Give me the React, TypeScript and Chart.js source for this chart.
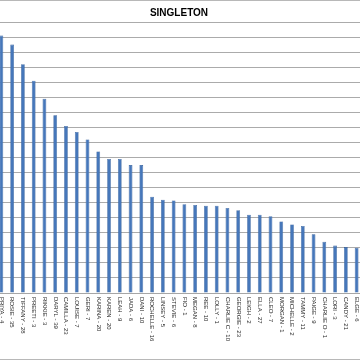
import { useEffect, useRef } from "react";
import { Chart, registerables } from "chart.js";

Chart.register(...registerables);

const chartTitle = "SINGLETON";

const categories = [
  "PRIYA - 4", "ROSIE - 35", "TIFFANY - 28", "PREETI - 3", "RIKKIE - 3", "DARYL - 39",
  "CAMILLA - 23", "LOUISE - 7", "GERI - 7", "KARINA - 20", "KAREN - 20", "LEAH - 9",
  "JADA - 6", "DANI - 10", "ROCHELLE - 16", "LINSEY - 5", "STEVIE - 6", "FIO - 1",
  "MEGAN - 8", "REE - 10", "LOLLY - 1", "CHARLIE C - 10", "GEORGIE - 23", "LEIGH - 2",
  "ELLA - 27", "CLEO - 7", "MORGAN - 1", "MICHELLE - 2", "TAMMY - 11", "PAIGE - 9",
  "CHARLIE O - 1", "LORI - 3", "CANDY - 21", "ELGE - 6",
];

const values = [
  17.1, 16.5, 15.2, 14.1, 12.9, 11.8, 11.1, 10.7, 10.2, 9.4, 8.9, 8.9,
  8.5, 8.5, 6.4, 6.2, 6.15, 5.9, 5.85, 5.8, 5.8, 5.65, 5.5, 5.2,
  5.2, 5.1, 4.75, 4.55, 4.45, 3.9, 3.4, 3.15, 3.05, 3.0,
];

const yMin = 0;
const yMax = 18;
const yStep = 1;

export default function App() {
  const ref = useRef<HTMLCanvasElement>(null);

  useEffect(() => {
    if (!ref.current) return;
    const labelPlugin = {
      id: "verticalLabels",
      afterDraw(chart: any) {
        const { ctx, chartArea } = chart;
        const x = chart.scales.x;
        ctx.save();
        ctx.font = "6px 'Liberation Sans', Arial, sans-serif";
        ctx.fillStyle = "#262626";
        ctx.textAlign = "left";
        ctx.textBaseline = "middle";
        categories.forEach((c, i) => {
          const px = x.getPixelForValue(i);
          ctx.save();
          ctx.translate(px, chartArea.bottom + 4);
          ctx.rotate(Math.PI / 2);
          ctx.fillText(c, 0, 0);
          ctx.restore();
        });
        ctx.strokeStyle = "#B8B8B8";
        ctx.lineWidth = 1;
        ctx.beginPath();
        ctx.moveTo(0, 0.5);
        ctx.lineTo(chart.width, 0.5);
        ctx.moveTo(0, chart.height - 0.5);
        ctx.lineTo(chart.width, chart.height - 0.5);
        ctx.stroke();
        ctx.restore();
      },
    };

    const chart = new Chart(ref.current, {
      type: "bar",
      data: {
        labels: categories,
        datasets: [
          {
            data: values,
            backgroundColor: "#4677BA",
            borderColor: "#2E5A96",
            borderWidth: 0.6,
            categoryPercentage: 1,
            barPercentage: 0.35,
          },
        ],
      },
      options: {
        responsive: false,
        animation: false,
        devicePixelRatio: 1,
        layout: { padding: { left: 0, right: 20, top: 0, bottom: 0 } },
        plugins: {
          legend: { display: false },
          tooltip: { enabled: false },
          title: {
            display: true,
            text: chartTitle,
            color: "#000000",
            font: { size: 10, weight: "bold", family: "'Liberation Sans', Arial, sans-serif", lineHeight: 1.2 },
            padding: { top: 7, bottom: 3 },
          },
        },
        scales: {
          x: {
            grid: { display: false },
            ticks: { display: false },
            border: { display: true, color: "#A6A6A6" },
            afterFit: (s: any) => {
              s.height = 67;
            },
          },
          y: {
            min: yMin,
            max: yMax,
            ticks: { display: false, stepSize: yStep },
            grid: { color: "#ABABAB", drawTicks: false },
            border: { display: false },
            afterFit: (s: any) => {
              s.width = 0;
            },
          },
        },
      },
      plugins: [labelPlugin],
    });
    return () => chart.destroy();
  }, []);

  return (
    <div style={{ position: "fixed", left: 0, top: 0, width: 360, height: 360, overflow: "hidden", background: "#fff" }}>
      <div style={{ position: "absolute", left: -4, top: 0, width: 386, height: 360 }}>
        <canvas ref={ref} width={386} height={360} style={{ width: 386, height: 360, display: "block" }} />
      </div>
    </div>
  );
}
